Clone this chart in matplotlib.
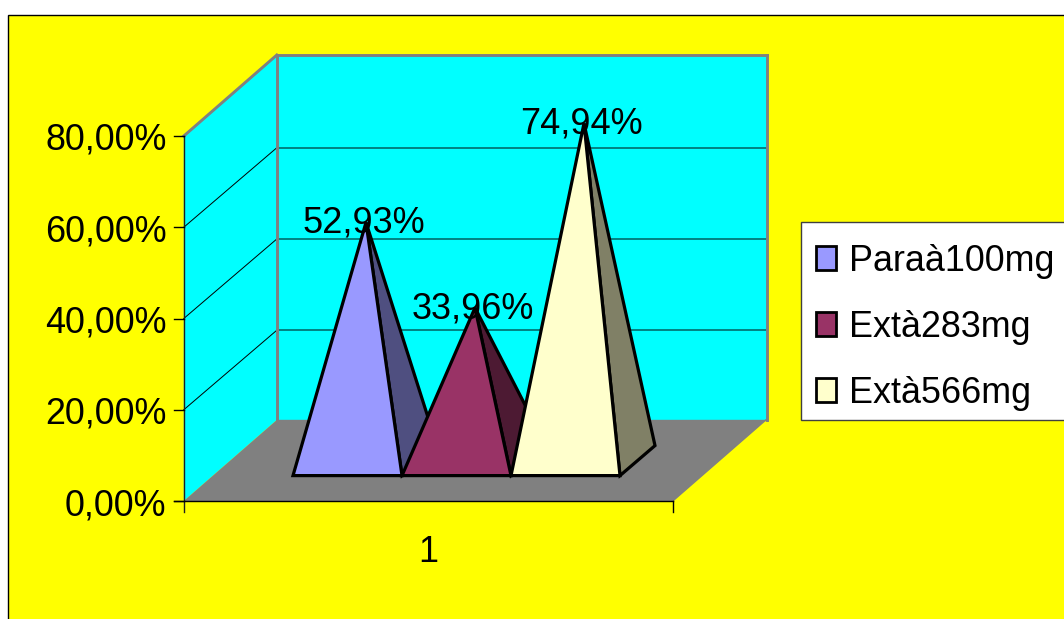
import matplotlib
matplotlib.use("Agg")
import matplotlib.pyplot as plt
from matplotlib.patches import Polygon, Rectangle

series = ["Paraà100mg", "Extà283mg", "Extà566mg"]
values = [52.93, 33.96, 74.94]
value_labels = ["52,93%", "33,96%", "74,94%"]
front_colors = ["#9999FF", "#993366", "#FFFFCC"]
side_colors = ["#4F4F80", "#4D1A33", "#808066"]
y_ticks = [0, 20, 40, 60, 80]
y_tick_labels = ["0,00%", "20,00%", "40,00%", "60,00%", "80,00%"]
category = "1"

W, H = 1064, 619
fig = plt.figure(figsize=(W / 100, H / 100), dpi=100, facecolor="white")
ax = fig.add_axes([0, 0, 1, 1])
ax.set_xlim(0, W)
ax.set_ylim(H, 0)
ax.axis("off")
plt.rcParams["font.family"] = ["Liberation Sans", "DejaVu Sans"]

# chart geometry (oblique projection)
X0, Y0 = 183.8, 501.0      # front-left floor corner
FRONT_W = 489.0
DX, DY = 93.0, -81.0       # floor depth offset
K = 365.0 / 80.0           # pixels per percentage point on walls
B_X0, B_Y = 293.0, 475.6   # pyramid base start
B_W = 109.0
B_DX, B_DY = 35.0, -30.0   # pyramid base depth
P_K = 4.50                 # pixels per percentage point for the pyramids
TOP = max(y_ticks)

ax.add_patch(Rectangle((7.8, 14.8), W, H, fc="#FFFF00", ec="black", lw=1.0, zorder=0))

# walls and floor
ax.add_patch(Polygon([(X0 + DX, Y0 + DY), (X0 + DX + FRONT_W + 1, Y0 + DY),
                      (X0 + DX + FRONT_W + 1, Y0 + DY - K * TOP), (X0 + DX, Y0 + DY - K * TOP)],
                     fc="#00FFFF", ec="none", zorder=1))
ax.add_patch(Polygon([(X0, Y0), (X0 + DX, Y0 + DY), (X0 + DX, Y0 + DY - K * TOP), (X0, Y0 - K * TOP)],
                     fc="#00FFFF", ec="none", zorder=1))
ax.add_patch(Polygon([(X0, Y0), (X0 + FRONT_W, Y0), (X0 + FRONT_W + DX, Y0 + DY), (X0 + DX, Y0 + DY)],
                     fc="#808080", ec="none", zorder=1))

# gridlines
for v in y_ticks[1:-1]:
    y = Y0 - K * v
    ax.plot([X0, X0 + DX], [y, y + DY + 1.5], color="black", lw=0.7, zorder=2)
    ax.plot([X0 + DX, X0 + DX + FRONT_W + 1], [y + DY + 1.5, y + DY + 1.5], color="#006060", lw=1.1, zorder=2)

# wall borders
GREY = "#808080"
top_y = Y0 - K * TOP
ax.plot([X0 + DX, X0 + DX + FRONT_W + 1], [top_y + DY, top_y + DY], color=GREY, lw=2.1, zorder=3, solid_capstyle="projecting")
ax.plot([X0, X0 + DX], [top_y, top_y + DY], color=GREY, lw=2.1, zorder=3)
ax.plot([X0 + DX, X0 + DX], [top_y + DY, Y0 + DY], color=GREY, lw=2.1, zorder=3)
ax.plot([X0 + DX + FRONT_W + 1] * 2, [top_y + DY, Y0 + DY], color=GREY, lw=2.1, zorder=3)
ax.plot([X0 + DX, X0 + DX + FRONT_W + 1], [Y0 + DY, Y0 + DY], color=GREY, lw=1.0, zorder=3)
ax.plot([X0 + FRONT_W, X0 + FRONT_W + DX], [Y0, Y0 + DY], color=GREY, lw=1.0, zorder=3)

# axes
ax.plot([X0, X0], [Y0 - K * TOP, Y0 + 11], color="#202020", lw=1.0, zorder=4)
ax.plot([X0 - 10, X0 + FRONT_W], [Y0, Y0], color="black", lw=1.0, zorder=4)
ax.plot([X0 + FRONT_W] * 2, [Y0, Y0 + 11], color="black", lw=1.0, zorder=4)
for v, lab in zip(y_ticks, y_tick_labels):
    y = Y0 - K * v
    ax.plot([X0 - 10, X0], [y, y], color="black", lw=1.0, zorder=4)
    ax.text(166.5, y + 14, lab, ha="right", va="baseline", fontsize=25.8, color="black", zorder=8)
ax.text(X0 + FRONT_W / 2 - 0.5, 562, category, ha="center", va="baseline", fontsize=25.8, color="black", zorder=8)

# pyramids
for i, (v, fc, sc) in enumerate(zip(values, front_colors, side_colors)):
    x1 = B_X0 + i * B_W
    x2 = x1 + B_W
    ax_x = (x1 + x2) / 2 + B_DX / 2 + 1
    ax_y = B_Y + B_DY / 2 - P_K * v
    z = 5 + i * 0.1
    ax.add_patch(Polygon([(ax_x, ax_y), (x2, B_Y), (x2 + B_DX, B_Y + B_DY)], fc=sc, ec="black",
                         lw=2.3, joinstyle="miter", zorder=z))
    ax.add_patch(Polygon([(x1, B_Y), (x2, B_Y), (ax_x, ax_y)], fc=fc, ec="black",
                         lw=2.3, joinstyle="miter", zorder=z + 0.01))
    ax.text(ax_x - 2.5, ax_y + 10.5, value_labels[i], ha="center", va="baseline",
            fontsize=26.0, color="black", zorder=9)

# legend
ax.add_patch(Rectangle((801, 222), W, 198, fc="white", ec="#404040", lw=1.0, zorder=6))
for i, (name, fc) in enumerate(zip(series, front_colors)):
    yc = 257.5 + i * 66
    ax.add_patch(Rectangle((815.5, yc - 12), 20.5, 24, fc=fc, ec="black", lw=2.0, zorder=7))
    ax.text(849, yc + 13.5, name, ha="left", va="baseline", fontsize=25.8, color="black", zorder=8)

fig.savefig("out.png", dpi=100, facecolor="white")
